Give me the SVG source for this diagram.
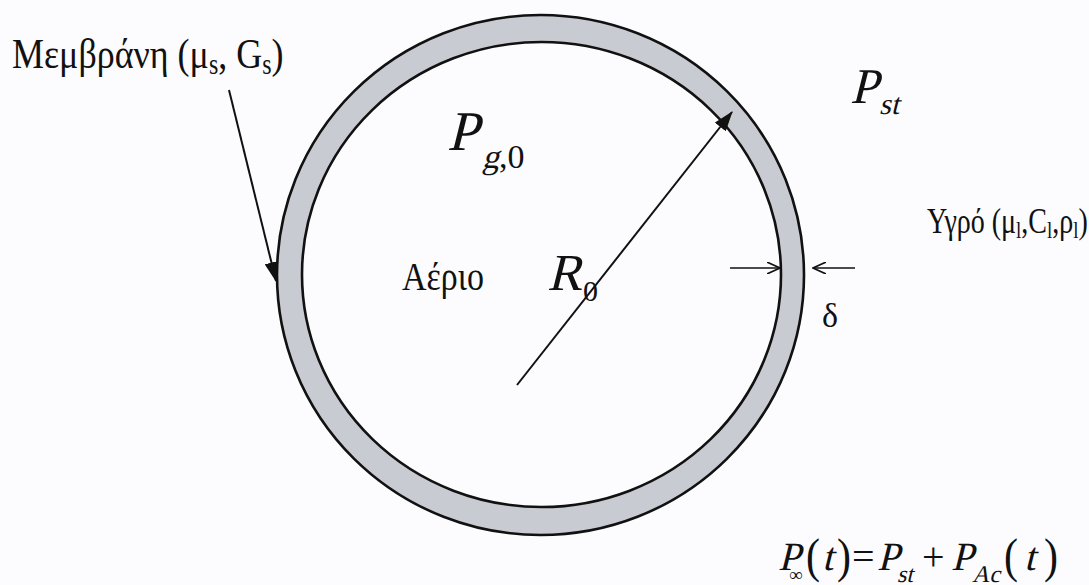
<svg xmlns="http://www.w3.org/2000/svg" width="1089" height="585" viewBox="0 0 1089 585">
  <style>
    .t { font-family: "Liberation Serif", "Times New Roman", serif; fill: #111; }
    .ring { stroke: #111; stroke-width: 2.6; }
    .conn { stroke: #111; stroke-width: 2; fill: none; }
    .thin { stroke: #111; stroke-width: 1.6; fill: none; }
  </style>
  <defs>
    <marker id="solid" viewBox="0 0 20 14" refX="19" refY="7" markerWidth="20" markerHeight="14" markerUnits="userSpaceOnUse" orient="auto">
      <path d="M0,0 L20,7 L0,14 Z" fill="#111"/>
    </marker>
    <marker id="open" viewBox="0 0 14 12" refX="13" refY="6" markerWidth="14" markerHeight="12" markerUnits="userSpaceOnUse" orient="auto">
      <path d="M0,0 L13,6 L0,12" fill="none" stroke="#111" stroke-width="1.6"/>
    </marker>
  </defs>
  <rect width="1089" height="585" fill="#fcfcfe"/>

  <g id="bubble">
    <ellipse class="ring" cx="540.5" cy="275" rx="263.5" ry="260" fill="#c9cbd2"/>
    <ellipse class="ring" cx="541.5" cy="274.5" rx="239.5" ry="232.5" fill="#fcfcfe"/>
  </g>

  <g id="connectors">
    <line class="conn" x1="229" y1="90" x2="276" y2="281" marker-end="url(#solid)"/>
    <line class="conn" x1="517" y1="385" x2="732" y2="112" marker-end="url(#solid)"/>
    <line class="thin" x1="730" y1="268" x2="780" y2="268" marker-end="url(#open)"/>
    <line class="thin" x1="855" y1="268" x2="813" y2="268" marker-end="url(#open)"/>
  </g>

  <g id="membrane-label">
    <text class="t" font-size="36" transform="translate(12 68) scale(1 1.2)">Μεμβράνη (μ<tspan font-size="24" dy="5">s</tspan><tspan dy="-5">, G</tspan><tspan font-size="24" dy="5">s</tspan><tspan dy="-5">)</tspan></text>
  </g>

  <g id="gas-pressure-label">
    <text class="t" font-size="56" transform="translate(447 150) skewX(-14)">P</text>
    <text class="t" font-size="34" transform="translate(482 168) skewX(-14)">g</text>
    <text class="t" font-size="34" x="499" y="168">,0</text>
  </g>

  <g id="static-pressure-label">
    <text class="t" font-size="50" transform="translate(850 103) skewX(-14)">P</text>
    <text class="t" font-size="30" transform="translate(879 114) skewX(-14)">st</text>
  </g>

  <g id="liquid-label">
    <text class="t" font-size="28" transform="translate(927 233) scale(1 1.25)">Υγρό (μ<tspan font-size="19" dy="4">l</tspan><tspan dy="-4">,C</tspan><tspan font-size="19" dy="4">l</tspan><tspan dy="-4">,ρ</tspan><tspan font-size="19" dy="4">l</tspan><tspan dy="-4">)</tspan></text>
  </g>

  <g id="gas-label">
    <text class="t" font-size="34" transform="translate(402 290) scale(1 1.15)">Αέριο</text>
  </g>

  <g id="radius-label">
    <text class="t" font-size="52" transform="translate(547 290) skewX(-14)">R</text>
    <text class="t" x="583" y="301" font-size="30">0</text>
  </g>

  <g id="thickness-label">
    <text class="t" x="822" y="327" font-size="34">δ</text>
  </g>

  <g id="pressure-equation">
    <text class="t" font-size="40" transform="translate(778 570) skewX(-14)">P</text>
    <text class="t" x="789" y="581" font-size="19">∞</text>
    <text class="t" font-size="42" transform="translate(806 572) scale(1 1.15)">(</text>
    <text class="t" font-size="40" transform="translate(822 570) skewX(-14)">t</text>
    <text class="t" font-size="42" transform="translate(837 572) scale(1 1.15)">)</text>
    <text class="t" x="852" y="570" font-size="40">=</text>
    <text class="t" font-size="40" transform="translate(877 570) skewX(-14)">P</text>
    <text class="t" font-size="24" transform="translate(897 582) skewX(-14)">st</text>
    <text class="t" x="922" y="570" font-size="40">+</text>
    <text class="t" font-size="40" transform="translate(951 570) skewX(-14)">P</text>
    <text class="t" font-size="24" transform="translate(972 582) skewX(-14)">Ac</text>
    <text class="t" font-size="42" transform="translate(1004 572) scale(1 1.15)">(</text>
    <text class="t" font-size="40" transform="translate(1024 570) skewX(-14)">t</text>
    <text class="t" font-size="42" transform="translate(1044 572) scale(1 1.15)">)</text>
  </g>
</svg>
